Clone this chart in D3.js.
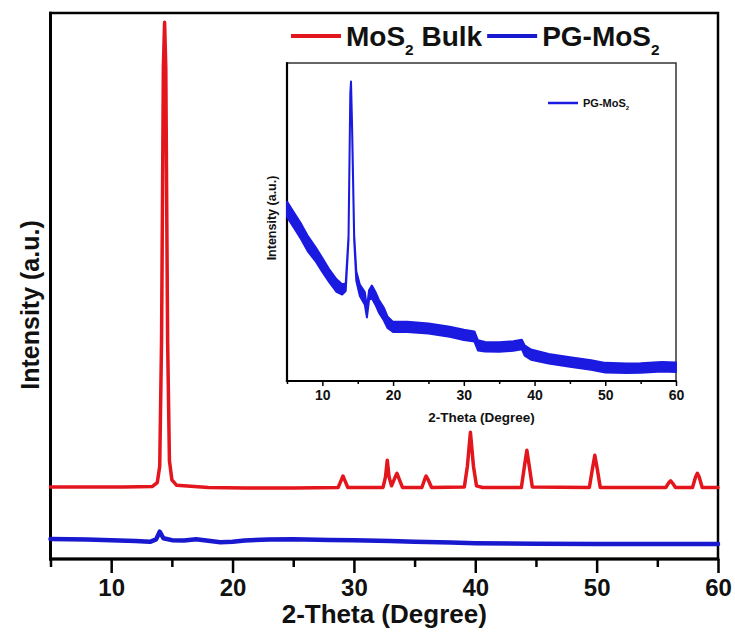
<!DOCTYPE html>
<html>
<head>
<meta charset="utf-8">
<script src="https://cdn.jsdelivr.net/npm/d3@7"></script>
<style>
body{margin:0;background:#fff}
text{font-family:"Liberation Sans",Arial,sans-serif;font-weight:bold}
</style>
</head>
<body>
<div id="chart"></div>
<script>
// MoS2 bulk pattern, [2theta, intensity]
const bulkPts = [
 [5,132],[8,132],[11,132],[13.4,133],[13.8,140],[14.0,170],[14.15,400],[14.3,900],[14.4,983],[14.5,900],[14.65,400],[14.8,180],[15.0,145],[15.4,135],
 [18,131],[21,130],[25,130],[28.7,131],[28.95,144],[29.1,152],[29.25,144],[29.5,131],
 [32.4,131],[32.6,150],[32.75,181],[32.9,150],[33.1,134],[33.4,150],[33.55,157],[33.7,148],[34.0,131],
 [35.6,131],[35.85,147],[35.95,152],[36.1,146],[36.4,131],
 [39.1,132],[39.35,170],[39.6,232],[39.85,170],[40.1,134],[40.6,131],
 [43.8,131],[44.05,170],[44.25,199],[44.45,170],[44.7,132],
 [49.4,131],[49.65,165],[49.85,190],[50.05,165],[50.3,131],
 [55.7,131],[55.95,140],[56.1,143],[56.25,139],[56.5,131],
 [57.9,131],[58.15,150],[58.3,157],[58.45,150],[58.7,131],[60,131]
]
// PG-MoS2 on the main panel
const pgPts = [
 [5,36.5],[8,35.5],[10,34.5],[12,33],[13.2,31.5],[13.7,36],[14.0,50],[14.3,38],[15,34.5],[16,34],[17,36],
 [18,33.5],[19,30.5],[20,31.5],[21,34],[23,35.5],[25,36],[28,35],[30,34.5],[33,33],[35,31.5],[38,30],[40,29],[45,28],[50,27.5],[55,27.5],[60,27.5]
]
// PG-MoS2 inset: [2theta, centre of the noisy band, half thickness], % of inset height
const insetBand = [
 [5,54,2.4],[6,50.5,2.4],[7,47,2.4],[8,43,2.4],[9,40,2.2],[10,36.5,2.2],[11,33,2],[12,30,2],[12.8,28.8,1.6],[13.3,29.5,1.2],
 [13.7,45,0.6],[13.95,90,0.5],[14.05,93.7,0.5],[14.2,80,0.5],[14.5,45,0.8],[14.8,33,1.5],[15.3,28.5,1.8],[16,26,2],[16.3,21.5,1.5],
 [16.6,27,1.5],[17,28,2],[17.5,26,2],[18,23.5,2],[18.7,21,2],[19.2,18.5,1.8],[20,17,1.6],[22,17,1.6],[25,16.5,1.6],[28,15.5,1.6],
 [30,14.5,1.6],[31.5,14,1.6],[32,11.2,1.6],[33,10.8,1.5],[35,10.7,1.5],[37,11,1.5],[38.2,11.5,1.5],[38.6,9.6,1.6],[39.5,8.3,1.6],
 [42,7,1.5],[45,6,1.5],[48,5,1.5],[50,4.2,1.5],[53,4,1.5],[55,4.1,1.5],[58,4.5,1.5],[60,4.3,1.5]
]
const xTicks = [10,20,30,40,50,60]
const xMinor = [5,15,25,35,45,55]
const legendNames = ["MoS", "PG-MoS"]

const RED = "#e3151d"
const BLUE = "#1818cf"
const INSET_BLUE = "#1a1ae0"

const svg = d3.select("#chart").append("svg").attr("width",735).attr("height",633)

function drawPanel(svg,p){
  const x = d3.scaleLinear().domain([5,60]).range([p.left,p.right])
  const y = d3.scaleLinear().domain(p.yDomain).range([p.bottom,p.top])

  svg.append("rect").attr("x",p.left).attr("y",p.top).attr("width",p.right-p.left).attr("height",p.bottom-p.top)
   .attr("fill","#fff").attr("stroke",p.frameColor).attr("stroke-width",p.frameW)

  const ax = svg.append("g").attr("transform",`translate(0,${p.bottom})`)
  ax.call(d3.axisBottom(x).tickValues(xMinor).tickSize(p.minorLen).tickFormat(""))
  ax.call(g => g.append("g").call(d3.axisBottom(x).tickValues(xTicks).tickSize(p.majorLen).tickPadding(p.pad)))
  ax.selectAll("path").remove()
  ax.selectAll("line").attr("stroke","#000").attr("stroke-width",p.tickW)
  ax.selectAll("text").attr("font-size",p.tickFont).attr("fill","#111").attr("font-family",null)

  svg.append("line").attr("x1",p.left).attr("x2",p.left).attr("y1",p.top-p.frameW/2).attr("y2",p.bottom+p.axisW/2)
   .attr("stroke","#000").attr("stroke-width",p.axisW)
  svg.append("line").attr("x1",p.left-p.axisW/2).attr("x2",p.right+p.frameW/2).attr("y1",p.bottom).attr("y2",p.bottom)
   .attr("stroke","#000").attr("stroke-width",p.axisW)

  svg.append("text").attr("x",(p.left+p.right)/2).attr("y",p.titleY).attr("text-anchor","middle")
   .attr("font-size",p.titleFont).attr("fill","#111").text("2-Theta (Degree)")
  svg.append("text").attr("transform",`translate(${p.ylabX},${p.ylabY}) rotate(-90)`)
   .attr("text-anchor","middle").attr("font-size",p.ylabFont).attr("fill","#111").text("Intensity (a.u.)")
  return {x,y}
}

function drawLine(svg,sc,pts,color,w){
  svg.append("path").datum(pts)
   .attr("d",d3.line().x(d => sc.x(d[0])).y(d => sc.y(d[1])))
   .attr("fill","none").attr("stroke",color).attr("stroke-width",w)
   .attr("stroke-linejoin","round").attr("stroke-linecap","round")
}

function drawBand(svg,sc,band,color){
  svg.append("path").datum(band)
   .attr("d",d3.area().x(d => sc.x(d[0])).y0(d => sc.y(d[1]-d[2])).y1(d => sc.y(d[1]+d[2])))
   .attr("fill",color).attr("stroke",color).attr("stroke-width",2).attr("stroke-linejoin","round")
}

// legend entry, returns x where it ends
function legendItem(svg,x0,y0,len,color,name,font,w){
  svg.append("line").attr("x1",x0).attr("x2",x0+len).attr("y1",y0).attr("y2",y0)
   .attr("stroke",color).attr("stroke-width",w)
  const t = svg.append("text").attr("x",x0+len+5).attr("y",y0+font*0.36).attr("font-size",font).attr("fill","#111")
  t.append("tspan").text(name[0])
  t.append("tspan").attr("font-size",font*0.55).attr("dy",font*0.32).text("2")
  if(name[1]) t.append("tspan").attr("dy",-font*0.32).text(name[1])
  return x0+len+5+t.node().getComputedTextLength()
}

// main panel
const main = drawPanel(svg,{
  left:50.5,right:718,top:13,bottom:559,yDomain:[0,1000],
  frameW:2.5,axisW:3,frameColor:"#000",minorLen:8,majorLen:14,tickW:2.5,pad:6,tickFont:24,
  titleY:623,titleFont:26,ylabX:39,ylabY:305,ylabFont:25
})
drawLine(svg,main,pgPts,BLUE,4.5)
drawLine(svg,main,bulkPts,RED,3.5)

const legEnd = legendItem(svg,291,36,50,RED,[legendNames[0]," Bulk"],28,4)
legendItem(svg,legEnd+5,36,50,BLUE,[legendNames[1]],28,4)

// inset
const inset = drawPanel(svg,{
  left:287,right:676,top:63,bottom:381,yDomain:[0,100],
  frameW:1.5,axisW:2.2,frameColor:"#333",minorLen:3,majorLen:5,tickW:1.5,pad:4,tickFont:14,
  titleY:422,titleFont:13.5,ylabX:276,ylabY:218,ylabFont:12.5
})
drawBand(svg,inset,insetBand,INSET_BLUE)
legendItem(svg,548,103,30,INSET_BLUE,[legendNames[1]],11,2.5)
</script>
</body>
</html>
